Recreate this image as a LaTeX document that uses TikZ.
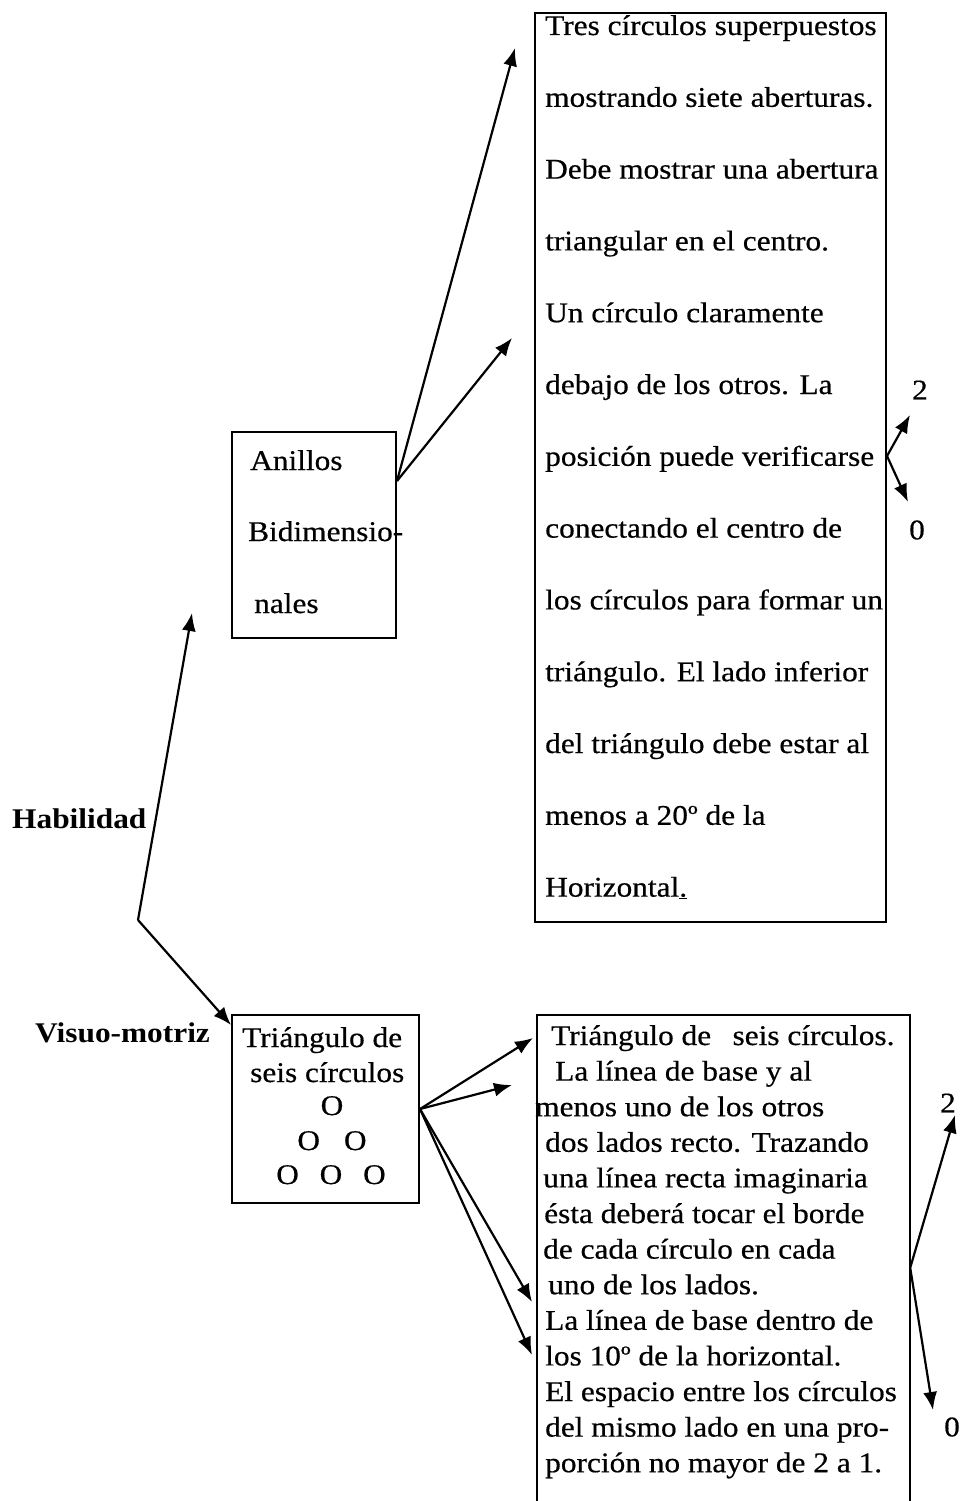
\documentclass[tikz,border=0pt]{standalone}
\usepackage{fontspec}
\setmainfont{Liberation Serif}[FakeStretch=1.1,UprightFeatures={FakeBold=0.5}]
\usetikzlibrary{arrows.meta,calc}
\begin{document}
\begin{tikzpicture}[x=1pt,y=-1pt,
  box/.style={draw,line width=2pt,inner sep=0pt,rectangle},
  conn/.style={line width=2.2pt,-{Latex[length=18pt,width=14pt]}},
  txt/.style={font=\fontsize{28.5}{36}\selectfont,inner sep=0pt,anchor=base west},
  ctxt/.style={font=\fontsize{28.5}{36}\selectfont,inner sep=0pt,anchor=base},
  bld/.style={font=\fontsize{28.5}{36}\selectfont\bfseries,inner sep=0pt,anchor=base west},
]
\useasboundingbox[fill=white] (0,0) rectangle (963,1501);

% boxes
\node[box,minimum width=351pt,minimum height=909pt] (topbox) at (710.5,467.5) {};
\node[box,minimum width=164pt,minimum height=206pt] (anillos) at (314,535) {};
\node[box,minimum width=187pt,minimum height=188pt] (tri) at (325.5,1109) {};
\node[inner sep=0pt,minimum width=373pt,minimum height=500pt] (botbox) at (723.5,1265) {};
\draw[line width=2pt] (botbox.south west) -- (botbox.north west) -- (botbox.north east) -- (botbox.south east);

% top box text
\foreach \txt [count=\i] in {
  {Tres círculos superpuestos},
  {mostrando siete aberturas.},
  {Debe mostrar una abertura},
  {triangular en el centro.},
  {Un círculo claramente},
  {debajo de los otros. La},
  {posición puede verificarse},
  {conectando el centro de},
  {los círculos para formar un},
  {triángulo. El lado inferior},
  {del triángulo debe estar al},
  {menos a 20º de la},
  {Horizontal\underline{.}}}
  \node[txt] (tl\i) at (545,{35+71.8*(\i-1)}) {\txt};

% anillos text
\node[txt] (an1) at (250,470) {Anillos};
\node[txt] (an2) at (248,541) {Bidimensio-};
\node[txt] (an3) at (254,613) {nales};

% left labels
\node[bld] (hab) at (12,828) {Habilidad};
\node[bld] (vis) at (35,1042) {Visuo-motriz};

% triangle box text
\node[txt] (tr1) at (242,1047) {Triángulo de};
\node[txt] (tr2) at (250,1082) {seis círculos};
\node[ctxt] (tr3) at (332,1115) {O};
\node[ctxt] (tr4) at (332,1150) {O\hspace{0.84em}O};
\node[ctxt] (tr5) at (331,1184) {O\hspace{0.73em}O\hspace{0.73em}O};

% bottom box text
\foreach \dx/\txt [count=\i] in {
  551/{Triángulo de\hspace{0.75em}seis círculos.},
  555/{La línea de base y al},
  535/{menos uno de los otros},
  545/{dos lados recto. Trazando},
  543/{una línea recta imaginaria},
  544/{ésta deberá tocar el borde},
  543/{de cada círculo en cada},
  548/{uno de los lados.},
  545/{La línea de base dentro de},
  545/{los 10º de la horizontal.},
  545/{El espacio entre los círculos},
  545/{del mismo lado en una pro-},
  545/{porción no mayor de 2 a 1.}}
  \node[txt] (bl\i) at (\dx,{1045+35.6*(\i-1)}) {\txt};

% score labels
\node[ctxt,anchor=center] (s2a) at (920,390) {2};
\node[ctxt,anchor=center] (s0a) at (917,530) {0};
\node[ctxt,anchor=center] (s2b) at (948,1103) {2};
\node[ctxt,anchor=center] (s0b) at (952,1427) {0};

% coordinates
\coordinate (ao) at ($(anillos.north east)+(0,50)$);
\coordinate (at1) at (515,48);
\coordinate (at2) at (512,338);
\coordinate (hj) at (138,920);
\coordinate (hup) at (192,613);
\coordinate (hdn) at ($(tri.north west)+(0,11)$);
\coordinate (tt1) at (533,1038);
\coordinate (tt2) at (512,1085);
\coordinate (tt3) at (532,1302);
\coordinate (tt4) at (532,1355);
\coordinate (ro) at ($(topbox.north east)+(0,444)$);
\coordinate (rt1) at (910,415);
\coordinate (rt2) at (908,502);
\coordinate (bo) at ($(botbox.north east)+(0,253)$);
\coordinate (bt1) at (955,1115);
\coordinate (bt2) at (933,1410);

% connectors
\draw[conn] (ao) -- (at1);
\draw[conn] (ao) -- (at2);
\draw[conn] (hj) -- (hup);
\draw[conn] (hj) -- (hdn);
\draw[conn] (tri.east) -- (tt1);
\draw[conn] (tri.east) -- (tt2);
\draw[conn] (tri.east) -- (tt3);
\draw[conn] (tri.east) -- (tt4);
\draw[conn] (ro) -- (rt1);
\draw[conn] (ro) -- (rt2);
\draw[conn] (bo) -- (bt1);
\draw[conn] (bo) -- (bt2);
\end{tikzpicture}
\end{document}
